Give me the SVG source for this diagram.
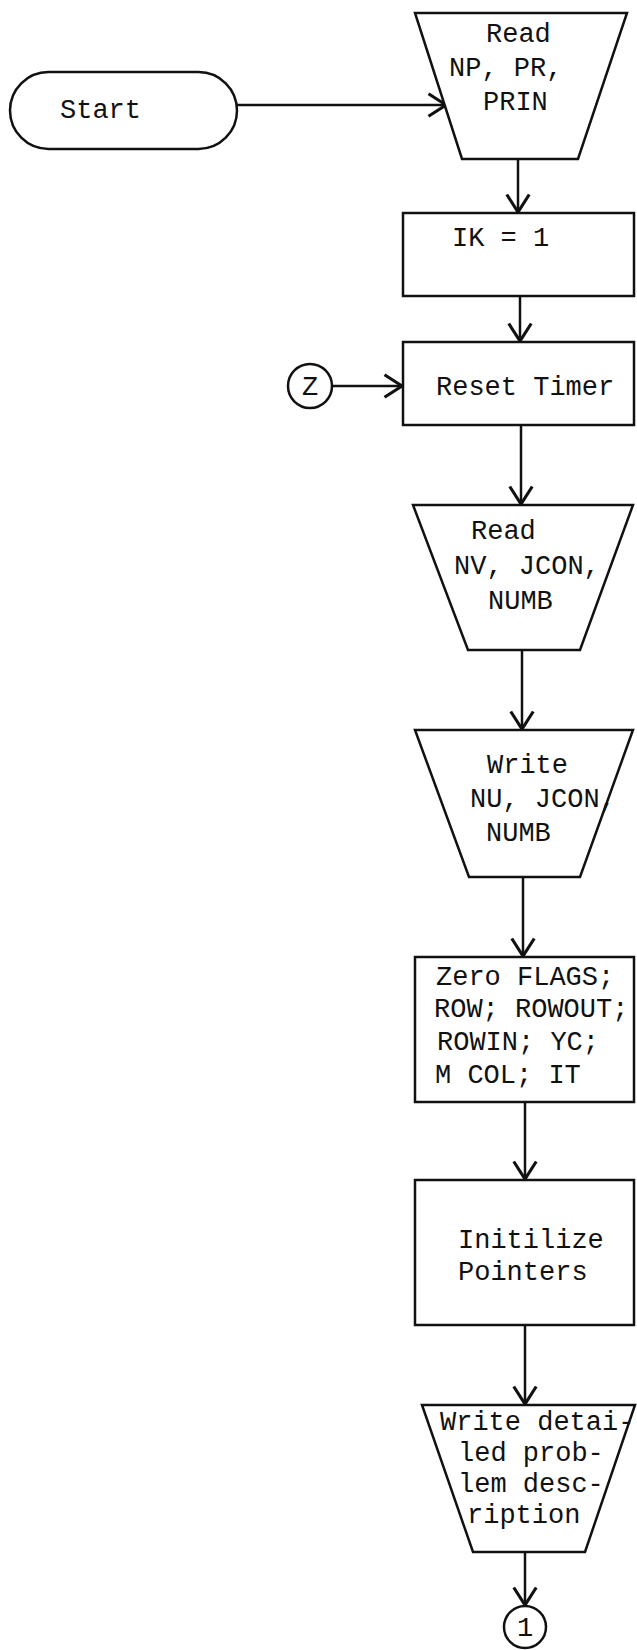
<svg xmlns="http://www.w3.org/2000/svg" width="637" height="1650" viewBox="0 0 637 1650">
<style>
.s{fill:#fff;stroke:#111;stroke-width:2.5;stroke-linejoin:miter}
.t{font-family:"Liberation Mono","Courier New",monospace;font-size:27px;fill:#111}
.c{fill:none;stroke:#111;stroke-width:2.5}
</style>
<defs>
<marker id="ah" markerUnits="userSpaceOnUse" markerWidth="30" markerHeight="30" viewBox="-16 -12 20 24" refX="0" refY="0" orient="auto">
<path d="M-14,-9 L0,0 L-14,9" fill="none" stroke="#111" stroke-width="2.5"/>
</marker>
</defs>
<rect width="637" height="1650" fill="#fff"/>
<g id="connectors">
<line class="c" x1="237" y1="105" x2="446" y2="105" marker-end="url(#ah)"/>
<line class="c" x1="518" y1="159" x2="518" y2="212" marker-end="url(#ah)"/>
<line class="c" x1="520" y1="296" x2="520" y2="341" marker-end="url(#ah)"/>
<line class="c" x1="332" y1="386" x2="402" y2="386" marker-end="url(#ah)"/>
<line class="c" x1="521" y1="425" x2="521" y2="504" marker-end="url(#ah)"/>
<line class="c" x1="522" y1="650" x2="522" y2="729" marker-end="url(#ah)"/>
<line class="c" x1="523" y1="877" x2="523" y2="956" marker-end="url(#ah)"/>
<line class="c" x1="525" y1="1102" x2="525" y2="1179" marker-end="url(#ah)"/>
<line class="c" x1="525" y1="1325" x2="525" y2="1404" marker-end="url(#ah)"/>
<line class="c" x1="525" y1="1552" x2="525" y2="1605" marker-end="url(#ah)"/>
</g>
<g id="start">
<rect class="s" x="10" y="72" width="227" height="77" rx="38.5" ry="38.5"/>
<text class="t" x="60" y="118">Start</text>
</g>
<g id="read-np">
<polygon class="s" points="415,13 627,13 578,159 462,159"/>
<text class="t" x="486" y="42">Read</text>
<text class="t" x="449" y="76">NP, PR,</text>
<text class="t" x="483" y="110">PRIN</text>
</g>
<g id="ik">
<rect class="s" x="403" y="213" width="231" height="83"/>
<text class="t" x="452" y="246">IK = 1</text>
</g>
<g id="z-connector">
<circle class="s" cx="310" cy="386" r="22"/>
<text class="t" x="310" y="395" text-anchor="middle">Z</text>
</g>
<g id="reset-timer">
<rect class="s" x="403" y="342" width="231" height="83"/>
<text class="t" x="436" y="395">Reset Timer</text>
</g>
<g id="read-nv">
<polygon class="s" points="413,505 633,505 580,650 468,650"/>
<text class="t" x="471" y="539">Read</text>
<text class="t" x="454" y="574">NV, JCON,</text>
<text class="t" x="488" y="609">NUMB</text>
</g>
<g id="write-nu">
<polygon class="s" points="415,730 633,730 580,877 469,877"/>
<text class="t" x="487" y="773">Write</text>
<text class="t" x="470" y="807">NU, JCON,</text>
<text class="t" x="486" y="841">NUMB</text>
</g>
<g id="zero-flags">
<rect class="s" x="415" y="957" width="219" height="145"/>
<text class="t" x="436" y="985">Zero FLAGS;</text>
<text class="t" x="434" y="1017">ROW; ROWOUT;</text>
<text class="t" x="437" y="1050">ROWIN; YC;</text>
<text class="t" x="435" y="1083">M COL; IT</text>
</g>
<g id="init-pointers">
<rect class="s" x="415" y="1180" width="219" height="145"/>
<text class="t" x="458" y="1248">Initilize</text>
<text class="t" x="458" y="1280">Pointers</text>
</g>
<g id="write-detailed">
<polygon class="s" points="422,1405 635,1405 585,1552 473,1552"/>
<text class="t" x="440" y="1430">Write detai-</text>
<text class="t" x="458" y="1461">led prob-</text>
<text class="t" x="458" y="1492">lem desc-</text>
<text class="t" x="467" y="1523">ription</text>
</g>
<g id="connector-1">
<circle class="s" cx="525" cy="1627" r="21"/>
<text class="t" x="525" y="1636" text-anchor="middle">1</text>
</g>
</svg>
